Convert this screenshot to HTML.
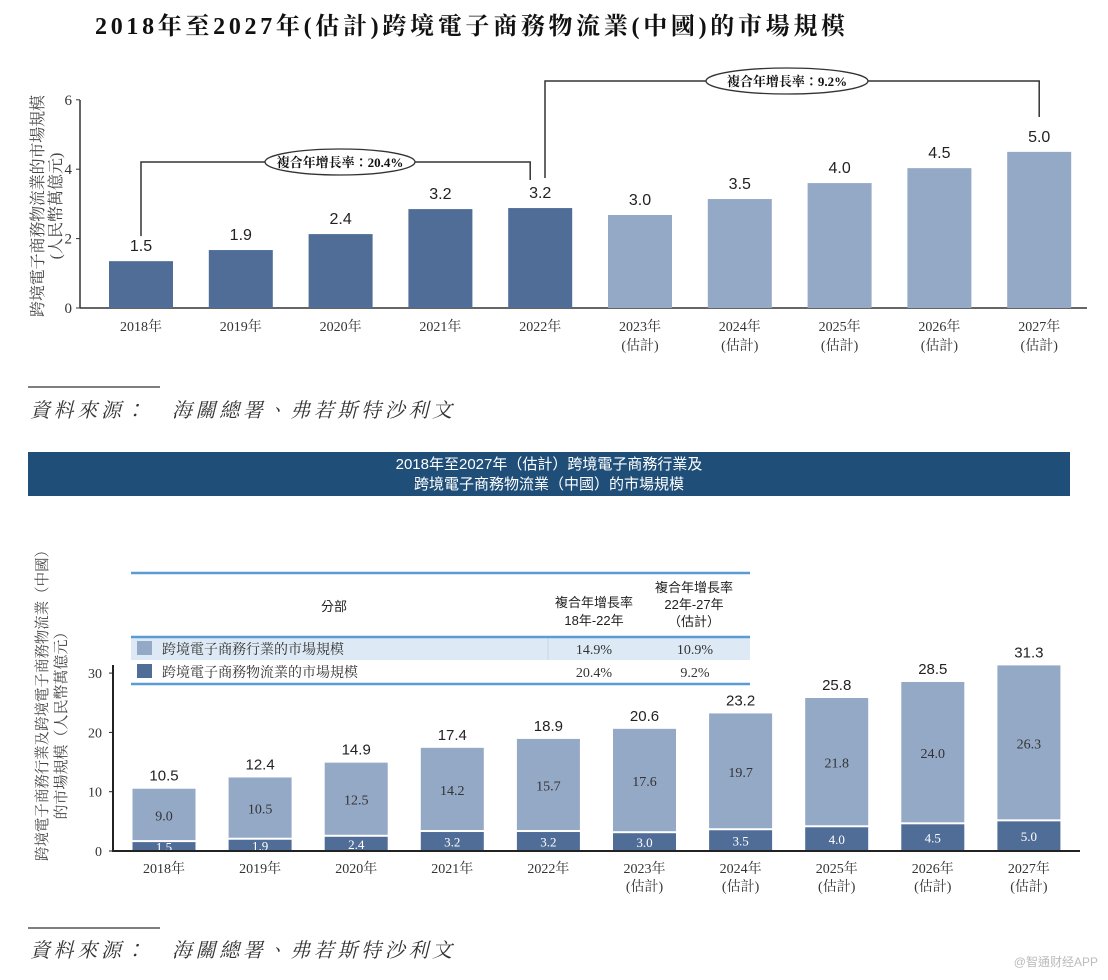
<!DOCTYPE html>
<html><head><meta charset="utf-8">
<style>
body{margin:0;background:#fff;width:1108px;height:980px;overflow:hidden;position:relative;font-family:"Liberation Serif","Noto Serif CJK SC",serif;}
svg{position:absolute;left:0;top:0}
</style></head>
<body>
<svg id="s" width="1108" height="980"></svg>
<script>
const years=['2018年','2019年','2020年','2021年','2022年','2023年','2024年','2025年','2026年','2027年'];
const estFlag=[0,0,0,0,0,1,1,1,1,1];
const topLabels=['1.5','1.9','2.4','3.2','3.2','3.0','3.5','4.0','4.5','5.0'];
const topHeights=[1.35,1.67,2.13,2.85,2.88,2.68,3.14,3.6,4.03,4.5];
const topTicks=[0,2,4,6];
const ecomValues=[9.0,10.5,12.5,14.2,15.7,17.6,19.7,21.8,24.0,26.3];
const logiValues=[1.5,1.9,2.4,3.2,3.2,3.0,3.5,4.0,4.5,5.0];
const totalLabels=['10.5','12.4','14.9','17.4','18.9','20.6','23.2','25.8','28.5','31.3'];
const botTicks=[0,10,20,30];
const DARK='#4f6d97',LIGHT='#94a9c6';
const NS='http://www.w3.org/2000/svg';
const s=document.getElementById('s');
function el(t,a,txt){const e=document.createElementNS(NS,t);for(const k in a)e.setAttribute(k,a[k]);if(txt!==undefined)e.textContent=txt;s.appendChild(e);return e;}
const SANS='"Liberation Sans","Noto Sans CJK TC",sans-serif';
const SERIF='"Liberation Serif","Noto Serif CJK TC",serif';

// title
let t=el('text',{x:95,y:34,'font-size':24,'font-weight':'bold','font-family':SERIF,fill:'#111',textLength:750,lengthAdjust:'spacing'},'2018年至2027年(估計)跨境電子商務物流業(中國)的市場規模');


// top chart
const y1=v=>308-v*34.7, x1=i=>141+i*99.8;
let a=el('line',{x1:80,y1:100,x2:80,y2:308,stroke:'#333','stroke-width':1.5});

a=el('line',{x1:80,y1:308,x2:1087,y2:308,stroke:'#333','stroke-width':1.5});

topTicks.forEach(v=>{
  el('line',{x1:76,y1:y1(v),x2:80,y2:y1(v),stroke:'#333'});
  const tk=el('text',{x:72,y:y1(v)+5,'font-size':15,'text-anchor':'end','font-family':SERIF,fill:'#333'},v);
  
});
years.forEach((yr,i)=>{
  const h=topHeights[i];
  const r=el('rect',{x:x1(i)-32,y:y1(h),width:64,height:y1(0)-y1(h),fill:estFlag[i]?LIGHT:DARK});
  
  const l=el('text',{x:x1(i),y:y1(h)-10,'font-size':16,'text-anchor':'middle','font-family':SANS,fill:'#222'},topLabels[i]);
  
  const c=el('text',{x:x1(i),y:331,'font-size':14,'text-anchor':'middle','font-family':SERIF,fill:'#333'},yr);
  
  if(estFlag[i]){const e2=el('text',{x:x1(i),y:350,'font-size':14,'text-anchor':'middle','font-family':SERIF,fill:'#333'},'(估計)');}
});
let yt=el('text',{transform:'translate(43,206) rotate(-90)','font-size':16,'text-anchor':'middle','font-family':SERIF,fill:'#444',textLength:222,lengthAdjust:'spacing'},'跨境電子商務物流業的市場規模');

yt=el('text',{transform:'translate(61,206) rotate(-90)','font-size':16,'text-anchor':'middle','font-family':SERIF,fill:'#444'},'(人民幣萬億元)');

// brackets
let b=el('polyline',{points:`${x1(0)},${y1(topHeights[0])-25} ${x1(0)},162 ${x1(4)-10},162 ${x1(4)-10},180`,fill:'none',stroke:'#333','stroke-width':1.5});

el('ellipse',{cx:340,cy:162,rx:75,ry:13,fill:'#fff',stroke:'#333','stroke-width':1.3});
t=el('text',{x:340,y:167,'font-size':13,'font-weight':'bold','text-anchor':'middle','font-family':SERIF,fill:'#111'},'複合年增長率：20.4%');

b=el('polyline',{points:`545,178 545,81 ${x1(9)},81 ${x1(9)},117`,fill:'none',stroke:'#333','stroke-width':1.5});

el('ellipse',{cx:787,cy:81,rx:81,ry:13,fill:'#fff',stroke:'#333','stroke-width':1.3});
t=el('text',{x:787,y:86,'font-size':13,'font-weight':'bold','text-anchor':'middle','font-family':SERIF,fill:'#111'},'複合年增長率：9.2%');


// source 1
el('line',{x1:28,y1:387,x2:160,y2:387,stroke:'#333','stroke-width':1.2});
t=el('text',{x:30,y:417,'font-size':20,'font-style':'italic','font-family':SERIF,fill:'#333',textLength:422,lengthAdjust:'spacing'},'資料來源：　海關總署、弗若斯特沙利文');


// banner
const bn=el('rect',{x:28,y:452,width:1042,height:44,fill:'#1f4e79'});

t=el('text',{x:549,y:469,'font-size':15,'text-anchor':'middle','font-family':SANS,fill:'#fff'},'2018年至2027年（估計）跨境電子商務行業及');

t=el('text',{x:549,y:489,'font-size':15,'text-anchor':'middle','font-family':SANS,fill:'#fff'},'跨境電子商務物流業（中國）的市場規模');


// bottom chart
const y2=v=>851-v*5.93, x2=i=>164+i*96.1;
years.forEach((yr,i)=>{
  const lg=logiValues[i],ec=ecomValues[i];
  const r1=el('rect',{x:x2(i)-31.5,y:y2(lg),width:63,height:y2(0)-y2(lg),fill:DARK});
  
  const r2=el('rect',{x:x2(i)-31.5,y:y2(lg+ec),width:63,height:y2(lg)-y2(lg+ec)-2,fill:LIGHT});
  
  const l1=el('text',{x:x2(i),y:(y2(lg)+y2(0))/2+5,'font-size':13,'text-anchor':'middle','font-family':SERIF,fill:'#fff'},lg.toFixed(1));
  
  const l2=el('text',{x:x2(i),y:(y2(lg)+y2(lg+ec))/2+5,'font-size':14,'text-anchor':'middle','font-family':SERIF,fill:'#333'},ec.toFixed(1));
  
  const l3=el('text',{x:x2(i),y:y2(lg+ec)-8,'font-size':15,'text-anchor':'middle','font-family':SANS,fill:'#222'},totalLabels[i]);
  
  const c=el('text',{x:x2(i),y:873,'font-size':14,'text-anchor':'middle','font-family':SERIF,fill:'#333'},yr);
  
  if(estFlag[i]){const e2=el('text',{x:x2(i),y:891,'font-size':14,'text-anchor':'middle','font-family':SERIF,fill:'#333'},'(估計)');}
});
a=el('line',{x1:112,y1:851,x2:1080,y2:851,stroke:'#222','stroke-width':2});

a=el('line',{x1:113,y1:665,x2:113,y2:852,stroke:'#222','stroke-width':2});

botTicks.forEach(v=>{
  el('line',{x1:109,y1:y2(v),x2:113,y2:y2(v),stroke:'#222'});
  const tk=el('text',{x:102,y:y2(v)+5,'font-size':14,'text-anchor':'end','font-family':SERIF,fill:'#333'},v);
  
});
yt=el('text',{transform:'translate(47,702) rotate(-90)','font-size':15,'text-anchor':'middle','font-family':SERIF,fill:'#444',textLength:318,lengthAdjust:'spacingAndGlyphs'},'跨境電子商務行業及跨境電子商務物流業（中國）');

yt=el('text',{transform:'translate(66,722) rotate(-90)','font-size':15,'text-anchor':'middle','font-family':SERIF,fill:'#444',textLength:195,lengthAdjust:'spacingAndGlyphs'},'的市場規模（人民幣萬億元）');


// legend table
const row=el('rect',{x:131,y:638,width:619,height:22,fill:'#ddeaf5'});

el('rect',{x:131,y:660,width:619,height:24,fill:'#fff'});
el('line',{x1:548,y1:638,x2:548,y2:660,stroke:'#c8d6e6'});
[573,637,684].forEach(y=>{el('line',{x1:131,y1:y,x2:750,y2:y,stroke:'#5b9bd5','stroke-width':2.5});});
t=el('text',{x:334,y:611,'font-size':13,'text-anchor':'middle','font-family':SANS,fill:'#222'},'分部');

[['複合年增長率',607],['18年-22年',625]].forEach(([s2,y])=>{t=el('text',{x:594,y:y,'font-size':13,'text-anchor':'middle','font-family':SANS,fill:'#222'},s2);});
[['複合年增長率',592],['22年-27年',609],['（估計）',626]].forEach(([s2,y])=>{t=el('text',{x:694,y:y,'font-size':13,'text-anchor':'middle','font-family':SANS,fill:'#222'},s2);});
let sw=el('rect',{x:137,y:641,width:15,height:14,fill:LIGHT});

sw=el('rect',{x:137,y:664,width:15,height:14,fill:DARK});

t=el('text',{x:162,y:654,'font-size':14,'font-family':SERIF,fill:'#333'},'跨境電子商務行業的市場規模');

t=el('text',{x:162,y:677,'font-size':14,'font-family':SERIF,fill:'#333'},'跨境電子商務物流業的市場規模');

[['14.9%',594,654],['10.9%',695,654],['20.4%',594,677],['9.2%',695,677]].forEach(([s2,x,y])=>{t=el('text',{x:x,y:y,'font-size':14,'text-anchor':'middle','font-family':SERIF,fill:'#333'},s2);});

// source 2
el('line',{x1:28,y1:928,x2:160,y2:928,stroke:'#333','stroke-width':1.2});
t=el('text',{x:30,y:957,'font-size':20,'font-style':'italic','font-family':SERIF,fill:'#333',textLength:422,lengthAdjust:'spacing'},'資料來源：　海關總署、弗若斯特沙利文');

t=el('text',{x:1098,y:966,'font-size':12,'text-anchor':'end','font-family':SANS,fill:'#bbb'},'@智通财经APP');

</script>
</body></html>
